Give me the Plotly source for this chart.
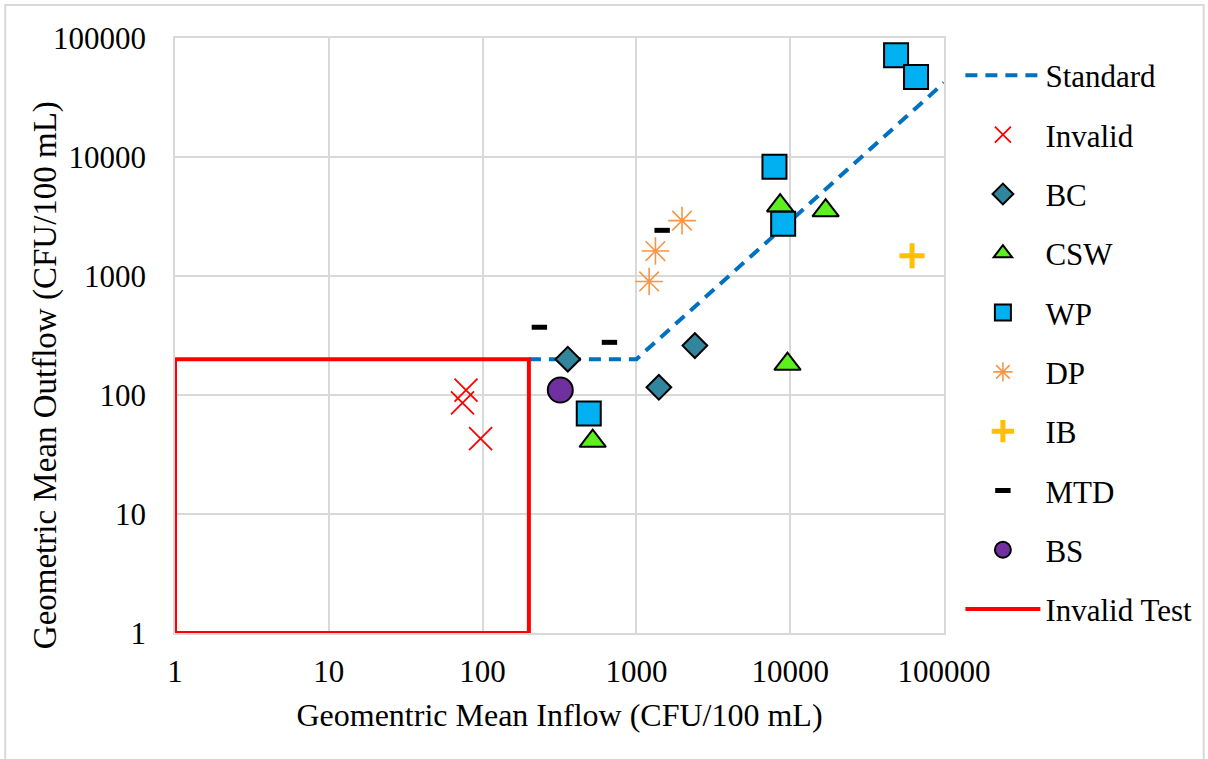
import plotly.graph_objects as go

# Geometric mean inflow / outflow (CFU/100 mL) for each BMP type
standard_x = [200, 1000, 100000]
standard_y = [200, 200, 42000]

invalid_x = [78, 74, 97]
invalid_y = [110, 86, 43]

bc_x = [358, 1400, 2400]
bc_y = [200, 116, 260]

csw_x = [520, 8600, 9600, 17000]
csw_y = [41, 3900, 182, 3550]

wp_x = [490, 7900, 9000, 48800, 65800]
wp_y = [70, 8300, 2750, 71600, 47000]

dp_x = [1210, 1330, 1980]
dp_y = [900, 1620, 2920]

ib_x = [62000]
ib_y = [1480]

mtd_x = [234, 668, 1470]
mtd_y = [371, 277, 2420]

bs_x = [320]
bs_y = [110]

# Region where a test is not considered valid (inflow and outflow below 200)
invalid_test_x = [1, 1, 200, 200, 1]
invalid_test_y = [1, 200, 200, 1, 1]

tick_vals = [1, 10, 100, 1000, 10000, 100000]
tick_text = ["1", "10", "100", "1000", "10000", "100000"]

FONT = "Liberation Serif, Times New Roman, serif"
TICK_SIZE = 31
TITLE_SIZE = 32

fig = go.Figure()

fig.add_trace(go.Scatter(
    x=standard_x, y=standard_y, mode="lines", name="Standard", legendgroup="g1",
    line=dict(color="#0070C0", width=4, dash="12px,8px")))

fig.add_trace(go.Scatter(
    x=invalid_x, y=invalid_y, mode="markers", name="Invalid", legendgroup="g2",
    marker=dict(symbol="x-thin-open", size=23, color="#FF0000",
                line=dict(color="#FF0000", width=1.8))))

fig.add_trace(go.Scatter(
    x=bc_x, y=bc_y, mode="markers", name="BC", legendgroup="g3",
    marker=dict(symbol="diamond", size=19, color="#31859C",
                line=dict(color="#000000", width=2))))

fig.add_trace(go.Scatter(
    x=csw_x, y=csw_y, mode="markers", name="CSW", legendgroup="g4",
    marker=dict(symbol="triangle-up", size=23, color="#5CF01E",
                line=dict(color="#000000", width=2))))

fig.add_trace(go.Scatter(
    x=wp_x, y=wp_y, mode="markers", name="WP", legendgroup="g5",
    marker=dict(symbol="square", size=24, color="#00B0F0",
                line=dict(color="#000000", width=2))))

fig.add_trace(go.Scatter(
    x=dp_x, y=dp_y, mode="markers", name="DP", legendgroup="g6",
    marker=dict(symbol="asterisk-open", size=23, color="#F79646",
                line=dict(color="#F79646", width=1.6))))

fig.add_trace(go.Scatter(
    x=ib_x, y=ib_y, mode="markers", name="IB", legendgroup="g7",
    marker=dict(symbol="cross-thin-open", size=18, color="#FFC000",
                line=dict(color="#FFC000", width=5))))

fig.add_trace(go.Scatter(
    x=mtd_x, y=mtd_y, mode="markers", name="MTD", legendgroup="g8",
    marker=dict(symbol="line-ew-open", size=11, color="#000000",
                line=dict(color="#000000", width=5))))

fig.add_trace(go.Scatter(
    x=bs_x, y=bs_y, mode="markers", name="BS", legendgroup="g9",
    marker=dict(symbol="circle", size=25, color="#7030A0",
                line=dict(color="#000000", width=2))))

fig.add_trace(go.Scatter(
    x=invalid_test_x, y=invalid_test_y, mode="lines", name="Invalid Test",
    legendgroup="g10", line=dict(color="#FF0000", width=4)))

axis_common = dict(
    type="log", showgrid=True, gridcolor="#D9D9D9", gridwidth=1.5,
    showline=True, linecolor="#D9D9D9", linewidth=1.5, mirror=True,
    zeroline=False, ticks="", tickvals=tick_vals, ticktext=tick_text,
    tickfont=dict(family=FONT, size=TICK_SIZE, color="#000000"),
)

fig.update_xaxes(range=[0, 5], ticklabelstandoff=10,
                 title=dict(text="Geomentric Mean Inflow (CFU/100 mL)",
                            font=dict(family=FONT, size=TITLE_SIZE, color="#000000"),
                            standoff=16),
                 **axis_common)
fig.update_yaxes(range=[0, 5], ticklabelstandoff=21, **axis_common)

# y-axis title sits close to the tick labels, so it is placed as an annotation
fig.add_annotation(text="Geometric Mean Outflow (CFU/100 mL)",
                   xref="paper", yref="paper", x=-0.1688, y=0.4336,
                   textangle=-90, showarrow=False,
                   xanchor="center", yanchor="middle",
                   font=dict(family=FONT, size=33, color="#000000"))

# light frame around the whole chart
fig.add_shape(type="rect", xref="paper", yref="paper",
              x0=-0.2208, x1=1.3377, y0=-0.22, y1=1.0555,
              line=dict(color="#D9D9D9", width=2), layer="below")

fig.update_layout(
    width=1208, height=759,
    margin=dict(l=175, r=263, t=38, b=126),
    paper_bgcolor="#FFFFFF", plot_bgcolor="#FFFFFF",
    font=dict(family=FONT, color="#000000"),
    showlegend=True,
    legend=dict(x=1.020, y=0.982, xanchor="left", yanchor="top",
                font=dict(family=FONT, size=TICK_SIZE, color="#000000"),
                tracegroupgap=16, itemwidth=75, bgcolor="rgba(0,0,0,0)"),
)

fig.write_html("out.html")
